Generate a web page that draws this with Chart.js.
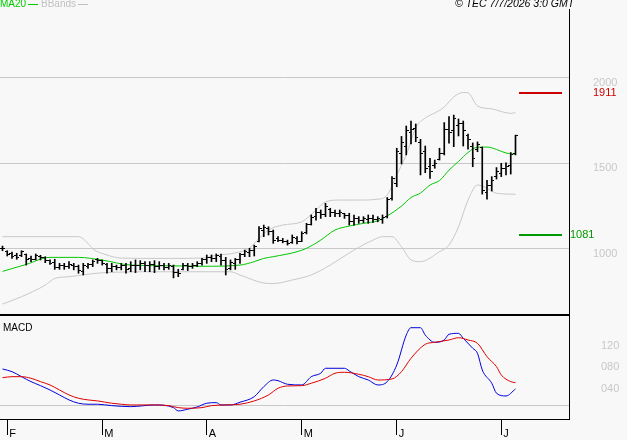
<!DOCTYPE html>
<html>
<head>
<meta charset="utf-8">
<script src="https://cdn.jsdelivr.net/npm/chart.js@4"></script>
<style>
  html, body { margin: 0; padding: 0; background: #f8f8f8; }
  #wrap { position: relative; width: 627px; height: 440px; overflow: hidden; background: #f8f8f8; font-family: "Liberation Sans", Arial, sans-serif; }
  #c1 { position: absolute; left: 0; top: 0; }
  #c2 { position: absolute; left: 0; top: 316px; }
  #sep { position: absolute; left: 0; top: 314px; width: 570px; height: 2px; background: #000; }
  .txt { position: absolute; white-space: nowrap; }
  .leg-line { display: inline-block; width: 10px; height: 1px; vertical-align: middle; margin-left: 2px; }
</style>
</head>
<body>
<div id="wrap">
  <canvas id="c1" width="627" height="314"></canvas>
  <div id="sep"></div>
  <canvas id="c2" width="627" height="124"></canvas>
  <div class="txt" style="left:0;top:-2px;font-size:10px;line-height:12px;color:#00cc00;">MA20<span class="leg-line" style="background:#00cc00;"></span></div>
  <div class="txt" style="left:41px;top:-2px;font-size:10px;line-height:12px;color:#c0c0c0;">BBands<span class="leg-line" style="background:#c0c0c0;"></span></div>
  <div class="txt" style="left:455px;top:-3px;font-size:10.5px;line-height:13px;font-style:italic;color:#000;">© TEC 7/7/2026 3:0 GMT</div>
  <div class="txt" style="left:3px;top:322px;font-size:10px;line-height:12px;color:#000;">MACD</div>
</div>
<script>
// ---------- data ----------
const opens  = [1003,985,975,960,960,965,945,940,955,950,930,920,890,905,895,905,895,870,895,910,935,930,910,885,895,890,900,885,905,900,915,900,910,895,905,890,895,860,880,900,895,905,915,935,950,945,955,930,885,915,935,965,980,990,1045,1110,1120,1100,1060,1050,1045,1035,1060,1045,1095,1145,1190,1215,1200,1230,1210,1205,1205,1195,1160,1180,1165,1170,1180,1170,1170,1190,1295,1380,1560,1600,1680,1705,1620,1570,1480,1490,1520,1560,1700,1690,1720,1730,1660,1600,1580,1590,1330,1370,1420,1440,1470,1490,1555];
const highs  = [1016,989,981,974,989,970,958,970,962,954,935,939,915,915,925,915,905,915,915,935,944,935,915,915,905,915,915,925,935,931,925,925,931,925,915,915,905,880,915,915,915,925,944,964,964,970,970,950,935,944,974,993,1003,1022,1130,1139,1129,1110,1071,1061,1051,1081,1071,1100,1149,1198,1237,1227,1266,1237,1227,1227,1208,1208,1198,1188,1188,1198,1198,1188,1198,1300,1422,1588,1657,1718,1747,1730,1640,1601,1529,1519,1588,1738,1773,1782,1759,1747,1671,1619,1625,1595,1400,1422,1475,1500,1502,1563,1665];
const lows   = [989,958,944,939,954,905,925,935,935,919,909,880,880,880,886,877,857,847,886,896,915,905,857,866,877,877,857,866,861,877,866,866,861,880,877,880,830,837,877,873,886,896,905,915,925,925,905,847,877,880,915,954,954,958,1040,1071,1081,1032,1042,1035,1022,1032,1028,1042,1087,1139,1168,1178,1188,1188,1188,1188,1178,1139,1139,1149,1152,1149,1155,1158,1149,1180,1285,1363,1496,1549,1613,1626,1432,1445,1412,1471,1519,1549,1617,1597,1660,1601,1583,1480,1568,1320,1290,1338,1408,1422,1432,1437,1549];
const closes = [1003,965,955,950,985,940,935,960,950,930,915,890,900,895,910,895,875,900,910,925,930,915,885,895,890,900,880,905,900,915,900,910,895,905,890,900,860,855,905,895,905,915,935,950,945,960,930,880,920,935,965,985,990,1015,1120,1125,1100,1050,1050,1045,1030,1065,1040,1090,1140,1185,1215,1200,1245,1210,1205,1210,1195,1160,1180,1165,1175,1180,1170,1175,1185,1290,1410,1570,1620,1690,1700,1650,1560,1470,1450,1500,1560,1700,1680,1760,1730,1690,1640,1530,1610,1340,1370,1400,1450,1470,1480,1550,1660];

const maIdx = [0,5,10,16,21,27,35,42,50,53,55,57,62,64,67,70,73,76,79,81,84,86,88,90,92,94,96,98,100,102,104,106,108];
const maVal = [868,909,950,950,934,905,901,898,905,925,944,954,983,1003,1051,1110,1133,1149,1164,1192,1250,1300,1326,1373,1399,1460,1511,1563,1594,1595,1581,1560,1553];

const upIdx = [0,16,18,19,22,25,34,42,45,49,52,54,56,59,63,66,68,71,75,79,81,83,85,87,89,91,93,95,97,98,100,103,107,108];
const upVal = [1071,1071,1032,1000,964,946,944,946,962,976,1005,1061,1110,1139,1158,1227,1274,1285,1285,1290,1315,1432,1549,1706,1765,1794,1829,1888,1914,1912,1835,1818,1792,1796];

const loIdx = [0,4,9,11,14,21,33,48,50,55,57,61,65,69,74,78,80,82,84,86,88,92,94,96,98,100,102,104,108];
const loVal = [677,720,788,827,837,860,866,866,847,800,797,818,847,905,993,1051,1071,1071,1012,935,925,983,1022,1129,1285,1373,1354,1325,1319];

const macdIdx = [0,2,4,6,8,10,12,14,16,18,20,23,27,32,36,37,39,41,43,45,46,48,50,53,55,57,58,60,63,65,67,68,72,73,75,77,79,81,83,85,86,88,89,91,93,94,96,97,99,100,101,103,104,106,108];
const macdVal = [68.6,63.6,54.2,44.9,37.4,29.3,20,10.7,4.5,2.6,2.6,0,-1.9,1.3,-3.7,-9.9,-6.7,-2.4,4.5,5.6,1.3,1.3,6.4,16.8,35.5,48,46.7,40,38.7,54.2,60.6,69.9,69.9,64.9,54.2,48,38.7,44.9,76.1,132.1,145.8,145.8,132.1,118.5,122.8,133.5,135.3,126,107.3,97.9,66.7,41.9,23.2,18.1,31.2];

const sigIdx = [0,2,4,6,8,10,12,14,16,18,20,23,25,27,32,35,37,39,42,44,47,50,53,56,58,60,63,65,68,70,72,75,77,79,82,84,86,89,91,94,96,98,100,102,104,105,107,108];
const sigVal = [52.3,54.2,54.2,51.2,44.9,38.7,29.3,20,13.8,10.7,8.8,4.5,2.6,1.3,1.3,0,-3.7,-4.9,-3.7,0,1.3,2.6,8.8,20,32.5,36.8,37.4,41.9,51.2,60.6,62.4,58.7,54.2,48,49.9,63.6,88.6,114.8,118.5,122.8,127.1,122.8,116.6,91.6,72.9,57.4,44.9,43];

const monthIdx = [1,21,43,63,83,105];
const monthLabels = ['F','M','A','M','J','J'];

const priceTicks = [1000,1500,2000];
const macdTicks = [0,40,80,120];

const resistance = 1911;
const support = 1081;
const levelSpan = [108.74, 117.79];

// ---------- styling ----------
Chart.defaults.font.family = '"Liberation Sans", Arial, sans-serif';
const X_MIN = -0.5263, X_MAX = 119.263;

function tickImg(side) {
  const c = document.createElement('canvas');
  c.width = 5; c.height = 1;
  const g = c.getContext('2d');
  g.fillStyle = '#000';
  g.fillRect(side === 'open' ? 0 : 3, 0, 2, 1);
  return c;
}
const openImg = tickImg('open');
const closeImg = tickImg('close');

const xy = (idx, val) => idx.map((x, k) => ({x: x, y: val[k]}));
const lineDs = (data, color, order, width) => ({
  type: 'line', data, borderColor: color, borderWidth: width || 1,
  pointRadius: 0, cubicInterpolationMode: 'monotone', fill: false, order
});

const levelLabels = {
  id: 'levelLabels',
  afterDatasetsDraw(chart) {
    const y = chart.scales.y, ctx = chart.ctx, area = chart.chartArea;
    ctx.save();
    ctx.font = '11px "Liberation Sans", Arial, sans-serif';
    ctx.textBaseline = 'middle';
    ctx.textAlign = 'left';
    ctx.fillStyle = '#cc0000';
    ctx.fillText(String(resistance), area.right + 24, y.getPixelForValue(resistance));
    ctx.fillStyle = '#009900';
    ctx.fillText(String(support), area.right + 1, y.getPixelForValue(support));
    ctx.restore();
  }
};

new Chart(document.getElementById('c1'), {
  data: {
    datasets: [
      { type: 'bar', data: highs.map((h, i) => ({x: i, y: [lows[i], h]})),
        backgroundColor: '#000', borderWidth: 0, barThickness: 1, grouped: false, order: 0 },
      { type: 'scatter', data: opens.map((o, i) => ({x: i, y: o})), pointStyle: openImg, pointRadius: 1, hoverRadius: 0, order: 0 },
      { type: 'scatter', data: closes.map((c, i) => ({x: i, y: c})), pointStyle: closeImg, pointRadius: 1, hoverRadius: 0, order: 0 },
      lineDs(xy(maIdx, maVal), '#00c800', 1),
      lineDs(xy(upIdx, upVal), '#c8c8c8', 2),
      lineDs(xy(loIdx, loVal), '#c8c8c8', 2),
      lineDs(levelSpan.map(x => ({x, y: resistance})), '#cc0000', 1, 2),
      lineDs(levelSpan.map(x => ({x, y: support})), '#009900', 1, 2)
    ]
  },
  options: {
    responsive: false, animation: false, devicePixelRatio: 1,
    layout: { padding: { top: 9, left: 0, right: 0, bottom: 0 }, autoPadding: false },
    plugins: { legend: { display: false }, tooltip: { enabled: false } },
    scales: {
      x: { type: 'linear', min: X_MIN, max: X_MAX, display: false, offset: false },
      y: {
        type: 'linear', position: 'right', min: 619, max: 2402,
        afterBuildTicks: s => { s.ticks = priceTicks.map(v => ({value: v})); },
        afterFit: s => { s.width = 58; s.paddingTop = 0; s.paddingBottom = 0; },
        grid: { color: '#c8c8c8', drawTicks: false },
        border: { color: '#000', width: 1 },
        ticks: { color: '#c8c8c8', padding: 24, labelOffset: 5, font: { size: 11 }, callback: v => String(v) }
      }
    }
  },
  plugins: [levelLabels]
});

new Chart(document.getElementById('c2'), {
  data: {
    datasets: [
      lineDs(xy(macdIdx, macdVal), '#0000dd', 1),
      lineDs(xy(sigIdx, sigVal), '#dd0000', 0)
    ]
  },
  options: {
    responsive: false, animation: false, devicePixelRatio: 1,
    layout: { padding: 0, autoPadding: false },
    plugins: { legend: { display: false }, tooltip: { enabled: false } },
    scales: {
      x: {
        type: 'linear', position: 'bottom', min: X_MIN, max: X_MAX, offset: false,
        afterBuildTicks: s => { s.ticks = monthIdx.map(v => ({value: v})); },
        afterFit: s => { s.height = 21; s.paddingLeft = 0; s.paddingRight = 0; },
        grid: { drawOnChartArea: false, drawTicks: true, tickLength: 16, color: '#000', tickColor: '#000' },
        border: { color: '#000', width: 1 },
        ticks: { color: '#000', align: 'start', labelOffset: 2, padding: -8, autoSkip: false, maxRotation: 0,
                 font: { size: 11 }, callback: v => monthLabels[monthIdx.indexOf(v)] }
      },
      y: {
        type: 'linear', position: 'right', min: -25, max: 167.7,
        afterBuildTicks: s => { s.ticks = macdTicks.map(v => ({value: v})); },
        afterFit: s => { s.width = 58; s.paddingTop = 0; s.paddingBottom = 0; },
        grid: { drawTicks: false, color: c => (c.tick && c.tick.value === 0) ? '#c8c8c8' : 'rgba(0,0,0,0)' },
        border: { color: '#000', width: 1 },
        ticks: { color: '#c8c8c8', padding: 32, labelOffset: 4.5, font: { size: 11 },
                 callback: v => v === 0 ? '' : String(v).padStart(3, '0') }
      }
    }
  }
});
</script>
</body>
</html>
